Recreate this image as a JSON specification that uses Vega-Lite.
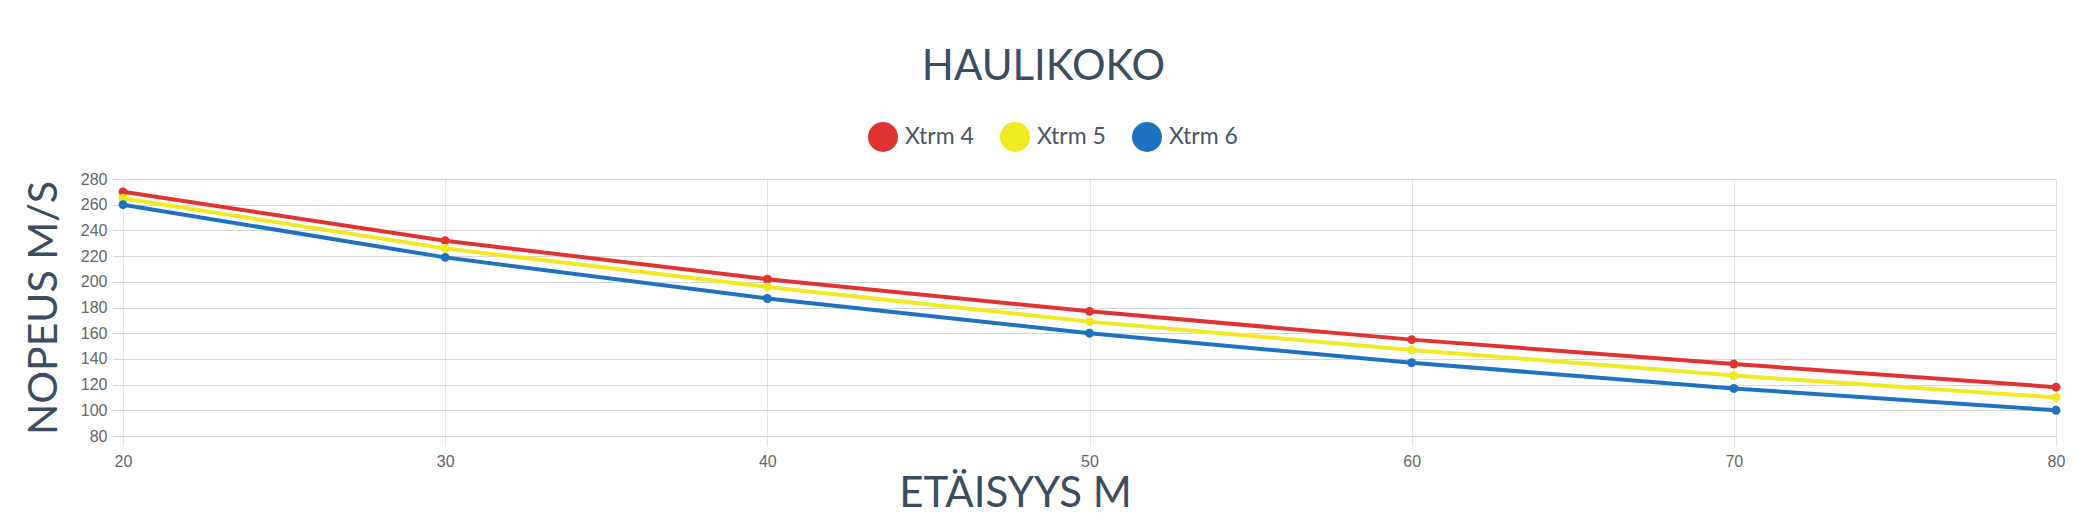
{
  "$schema": "https://vega.github.io/schema/vega-lite/v6.json",
  "description": "Haulikoko: nopeus etäisyyden mukaan",
  "width": 1933,
  "height": 257,
  "autosize": "none",
  "padding": {"left": 123, "top": 179, "right": 27, "bottom": 85},
  "background": "white",
  "config": {"view": {"stroke": null}},
  "title": {
    "text": "HAULIKOKO",
    "font": "Lato",
    "fontSize": 42,
    "fontWeight": "normal",
    "color": "#3b4d61",
    "anchor": "middle",
    "dx": -46,
    "offset": 33
  },
  "data": {
    "values": [
      {"series": "Xtrm 4", "distance": 20, "speed": 270},
      {"series": "Xtrm 4", "distance": 30, "speed": 232},
      {"series": "Xtrm 4", "distance": 40, "speed": 202},
      {"series": "Xtrm 4", "distance": 50, "speed": 177},
      {"series": "Xtrm 4", "distance": 60, "speed": 155},
      {"series": "Xtrm 4", "distance": 70, "speed": 136},
      {"series": "Xtrm 4", "distance": 80, "speed": 118},
      {"series": "Xtrm 5", "distance": 20, "speed": 265},
      {"series": "Xtrm 5", "distance": 30, "speed": 226},
      {"series": "Xtrm 5", "distance": 40, "speed": 196},
      {"series": "Xtrm 5", "distance": 50, "speed": 169},
      {"series": "Xtrm 5", "distance": 60, "speed": 147},
      {"series": "Xtrm 5", "distance": 70, "speed": 127},
      {"series": "Xtrm 5", "distance": 80, "speed": 110},
      {"series": "Xtrm 6", "distance": 20, "speed": 260},
      {"series": "Xtrm 6", "distance": 30, "speed": 219},
      {"series": "Xtrm 6", "distance": 40, "speed": 187},
      {"series": "Xtrm 6", "distance": 50, "speed": 160},
      {"series": "Xtrm 6", "distance": 60, "speed": 137},
      {"series": "Xtrm 6", "distance": 70, "speed": 117},
      {"series": "Xtrm 6", "distance": 80, "speed": 100}
    ]
  },
  "mark": {
    "type": "line",
    "strokeWidth": 4,
    "point": {"filled": true, "size": 80, "opacity": 1}
  },
  "encoding": {
    "x": {
      "field": "distance",
      "type": "quantitative",
      "scale": {"domain": [20, 80], "nice": false, "zero": false},
      "axis": {
        "values": [20, 30, 40, 50, 60, 70, 80],
        "title": "ETÄISYYS M",
        "titleFont": "Lato",
        "titleFontSize": 42,
        "titleFontWeight": "normal",
        "titleColor": "#3b4d61",
        "titleX": 892,
        "titleY": 70,
        "titleAlign": "center",
        "titleBaseline": "alphabetic",
        "labelFont": "Liberation Sans",
        "labelFontSize": 16,
        "labelColor": "#666666",
        "labelPadding": 7,
        "labelFlush": false,
        "tickSize": 10,
        "tickColor": "#e4e4e4",
        "gridColor": "#e4e4e4",
        "domain": false
      }
    },
    "y": {
      "field": "speed",
      "type": "quantitative",
      "scale": {"domain": [80, 280], "nice": false, "zero": false},
      "axis": {
        "values": [80, 100, 120, 140, 160, 180, 200, 220, 240, 260, 280],
        "title": "NOPEUS M/S",
        "titleFont": "Lato",
        "titleFontSize": 41,
        "titleFontWeight": "normal",
        "titleColor": "#3b4d61",
        "titleX": -67,
        "titleBaseline": "alphabetic",
        "labelFont": "Liberation Sans",
        "labelFontSize": 16,
        "labelColor": "#666666",
        "labelPadding": 6,
        "tickSize": 10,
        "tickColor": "#d6d6d6",
        "gridColor": "#d6d6d6",
        "domain": false
      }
    },
    "color": {
      "field": "series",
      "type": "nominal",
      "scale": {
        "domain": ["Xtrm 4", "Xtrm 5", "Xtrm 6"],
        "range": ["#e03434", "#f0ea22", "#1f72c0"]
      },
      "legend": {
        "orient": "none",
        "legendX": 745,
        "legendY": -57,
        "direction": "horizontal",
        "title": null,
        "symbolType": "circle",
        "symbolSize": 900,
        "symbolStrokeWidth": 0,
        "labelFont": "Lato",
        "labelFontSize": 23,
        "labelColor": "#4a5568",
        "labelOffset": 7,
        "columnPadding": 26,
        "encode": {
          "symbols": {"update": {"fill": {"scale": "color", "field": "value"}, "opacity": {"value": 1}}}
        }
      }
    }
  }
}
